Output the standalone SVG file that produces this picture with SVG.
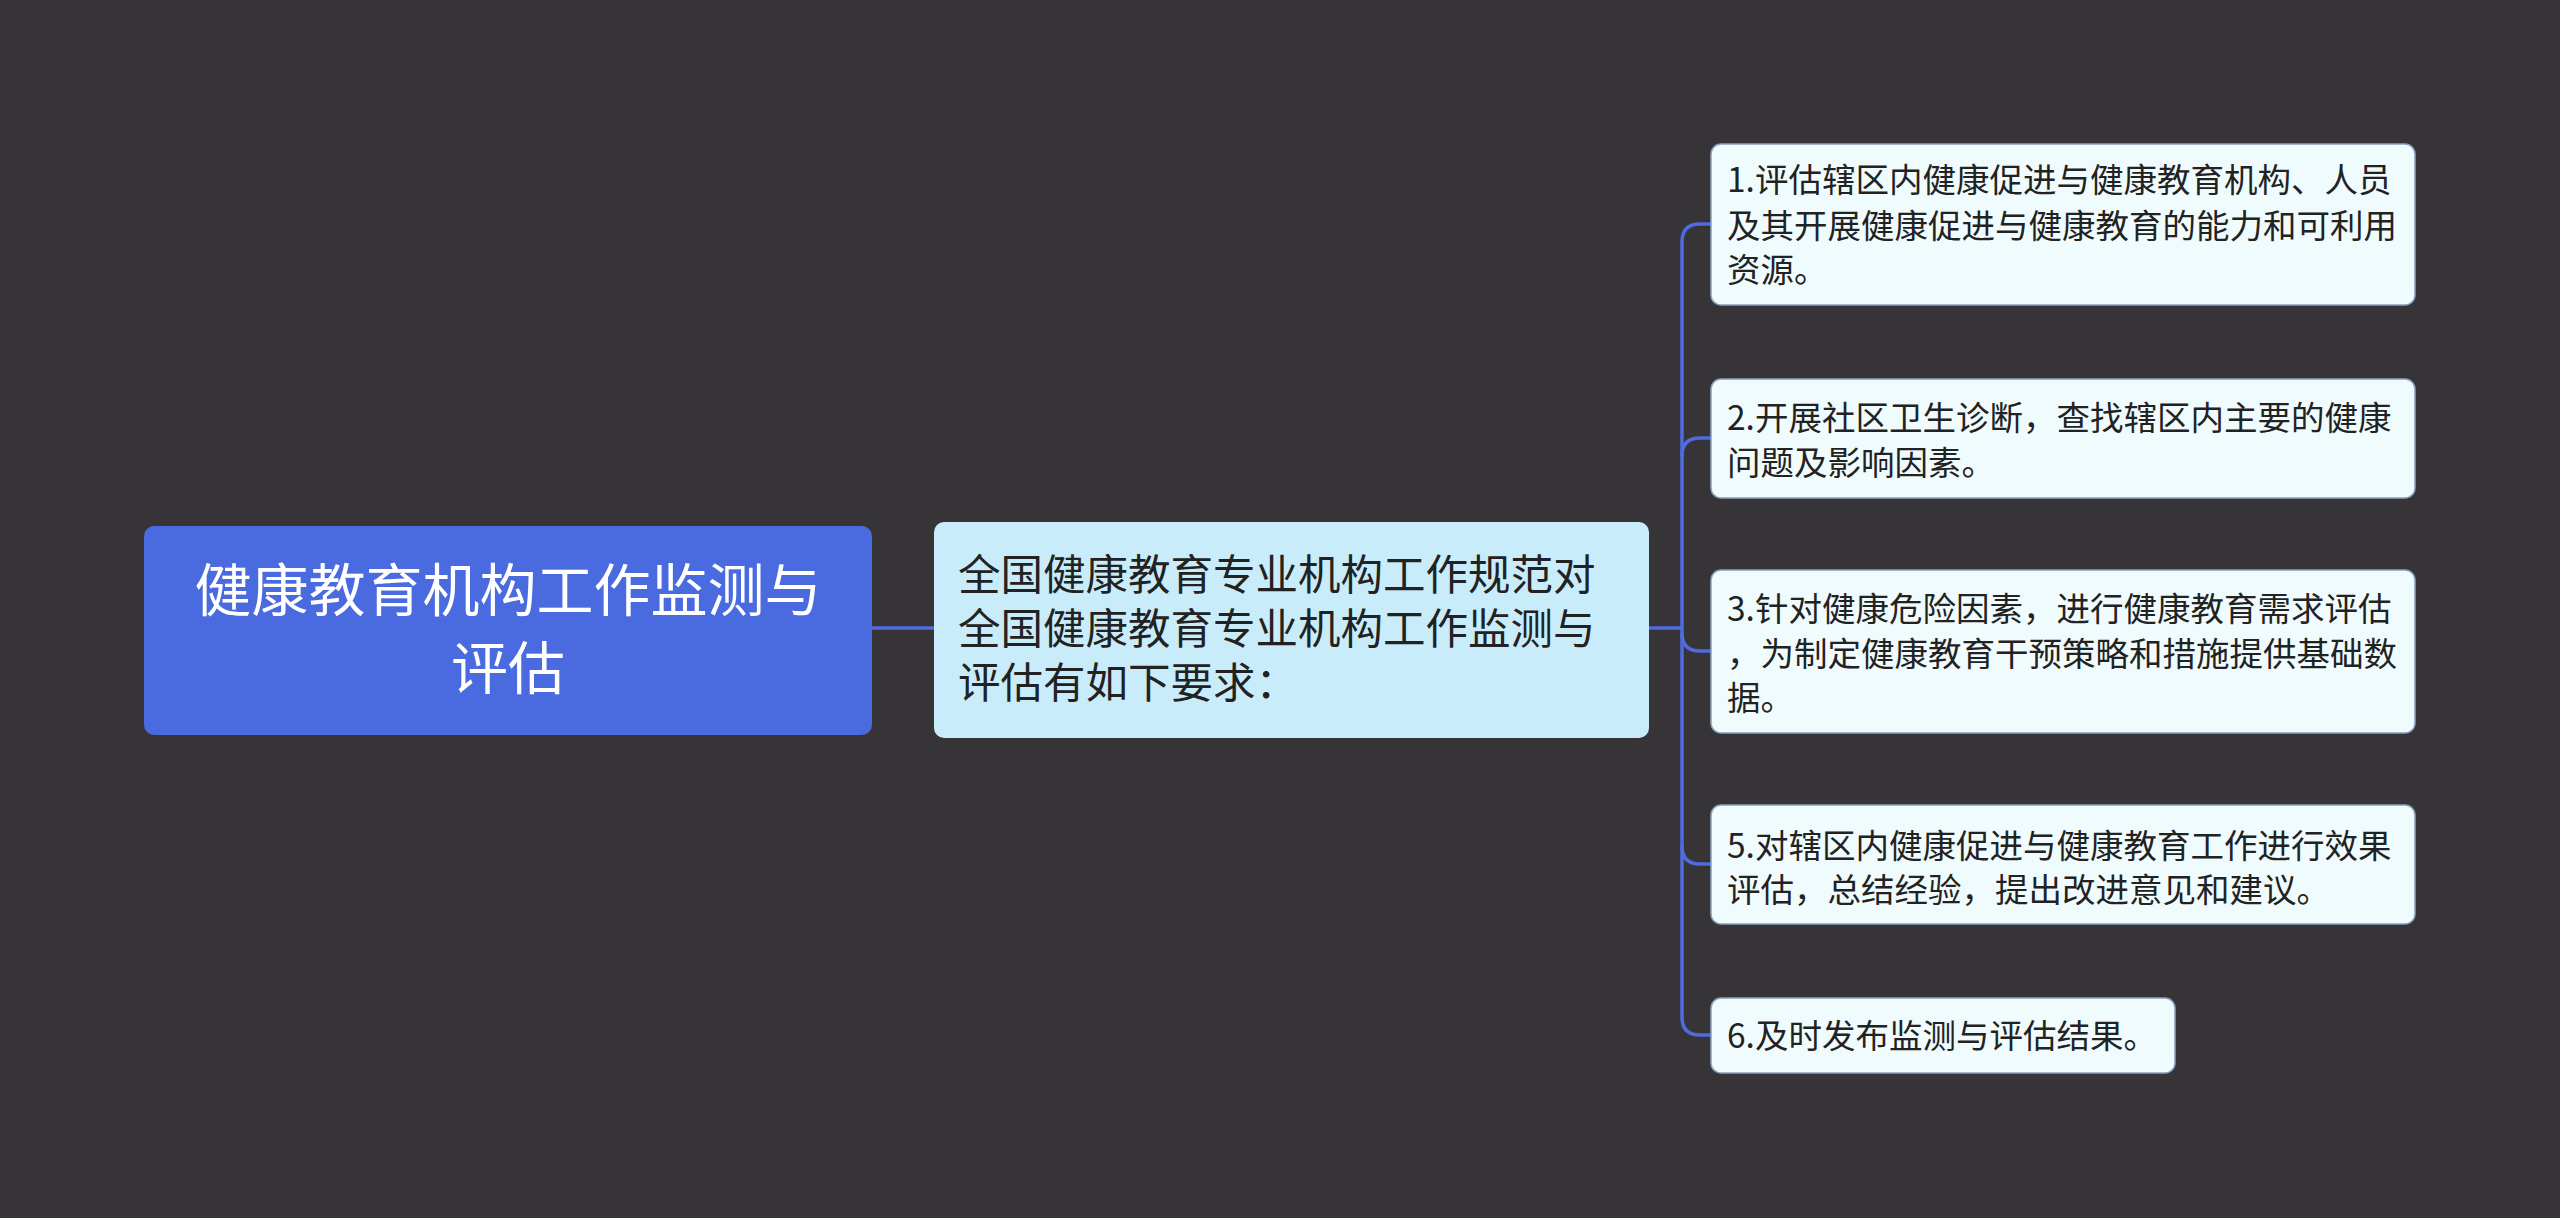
<svg xmlns="http://www.w3.org/2000/svg" width="2560" height="1218" viewBox="0 0 2560 1218">
<style>
text{font-family:"Noto Sans CJK SC","Liberation Sans",sans-serif}
.leaf rect{fill:#f0fbfd;stroke:#8aa0c0;stroke-width:1.5}
.leaf text{font-size:33.5px;fill:#222}
.c{fill:none;stroke:#4e6be0;stroke-width:3.5}
</style>
<rect width="2560" height="1218" fill="#363436"/>
<g id="connectors">
<path class="c" d="M872 628H934"/>
<path class="c" d="M1649 628H1682"/>
<path class="c" d="M1711 224H1700Q1682 224 1682 242V1017Q1682 1035 1700 1035H1711"/>
<path class="c" d="M1682 456Q1682 438 1700 438H1711"/>
<path class="c" d="M1682 633Q1682 651 1700 651H1711"/>
<path class="c" d="M1682 846Q1682 864 1700 864H1711"/>
</g>
<g id="root"><rect x="144" y="526" width="728" height="209" rx="10" fill="#4a6ae0"/>
<text x="508" y="611" font-size="57" fill="#fff" text-anchor="middle">健康教育机构工作监测与</text>
<text x="508" y="689" font-size="57" fill="#fff" text-anchor="middle">评估</text></g>
<g id="mid"><rect x="934" y="522" width="715" height="216" rx="10" fill="#c9ecfb"/>
<text font-size="42.5" fill="#222"><tspan x="958" y="590">全国健康教育专业机构工作规范对</tspan><tspan x="958" y="644">全国健康教育专业机构工作监测与</tspan><tspan x="958" y="698">评估有如下要求：</tspan></text></g>
<g id="n1" class="leaf"><rect x="1711" y="144" width="704" height="161" rx="10"/>
<text><tspan x="1727" y="192">1.评估辖区内健康促进与健康教育机构、人员</tspan><tspan x="1727" y="238">及其开展健康促进与健康教育的能力和可利用</tspan><tspan x="1727" y="282">资源。</tspan></text></g>
<g id="n2" class="leaf"><rect x="1711" y="379" width="704" height="119" rx="10"/>
<text><tspan x="1727" y="430">2.开展社区卫生诊断，查找辖区内主要的健康</tspan><tspan x="1727" y="475">问题及影响因素。</tspan></text></g>
<g id="n3" class="leaf"><rect x="1711" y="570" width="704" height="163" rx="10"/>
<text><tspan x="1727" y="621">3.针对健康危险因素，进行健康教育需求评估</tspan><tspan x="1727" y="666">，为制定健康教育干预策略和措施提供基础数</tspan><tspan x="1727" y="710">据。</tspan></text></g>
<g id="n5" class="leaf"><rect x="1711" y="805" width="704" height="119" rx="10"/>
<text><tspan x="1727" y="858">5.对辖区内健康促进与健康教育工作进行效果</tspan><tspan x="1727" y="902">评估，总结经验，提出改进意见和建议。</tspan></text></g>
<g id="n6" class="leaf"><rect x="1711" y="998" width="464" height="75" rx="10"/>
<text x="1727" y="1048">6.及时发布监测与评估结果。</text></g>
</svg>
